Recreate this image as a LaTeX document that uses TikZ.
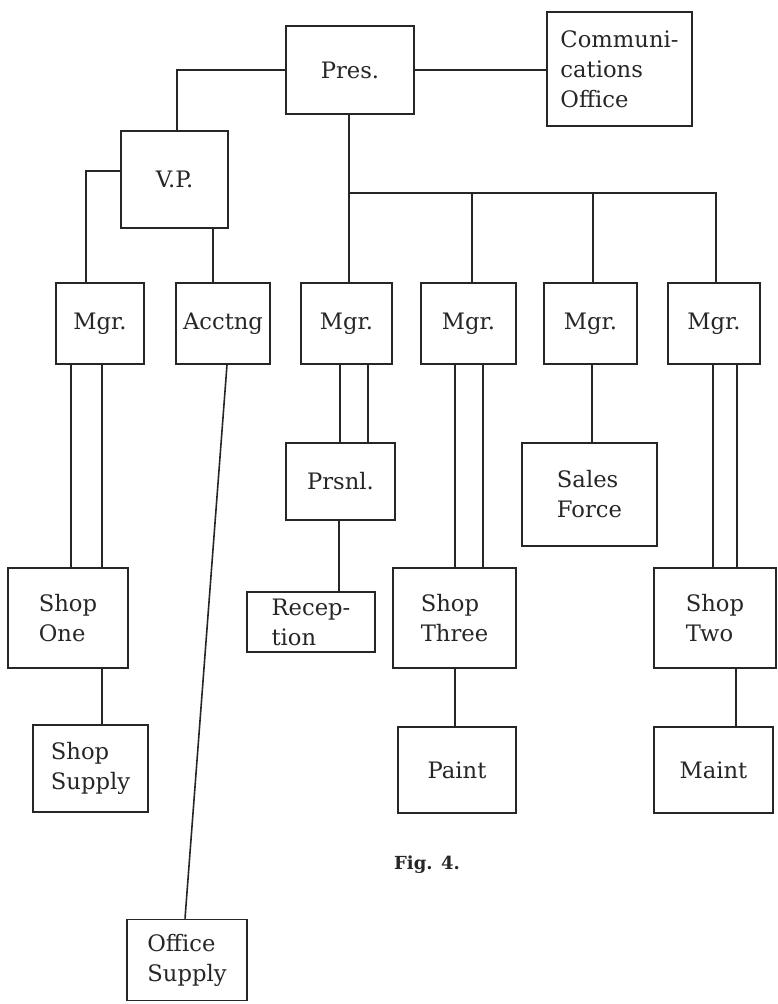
\documentclass[tikz,border=0pt]{standalone}
\usepackage{amsmath}
\usepackage{fontspec}
\setmainfont{DejaVu Serif}
\usepackage{tikz}
\tikzset{every picture/.style={line width=0.75pt}}
\tikzset{
  orgbox/.style 2 args={draw, color=black!85, line width=1.2pt, inner sep=0pt, align=left,
    minimum width=#1*0.75pt, minimum height=#2*0.75pt, font=\fontsize{17}{22.5}\selectfont},
  orgline/.style={draw=black!85, line width=1.2pt}
}

\begin{document}
\begin{tikzpicture}[x=0.75pt,y=0.75pt,yscale=-1,xscale=1]
\useasboundingbox (0,0) rectangle (778,1004);

%Boxes: top
\node[orgbox={128}{88}] (pres) at (350,70) {Pres.};
\node[orgbox={145}{114}] (comm) at (619.5,69) {Communi-\\cations\\Office};
\node[orgbox={107}{97}] (vp) at (174.5,179.5) {V.P.};
%Boxes: manager row
\node[orgbox={88}{81}] (mgrOne) at (100,323.5) {Mgr.};
\node[orgbox={94}{81}] (acctng) at (223,323.5) {Acctng};
\node[orgbox={91}{81}] (mgrTwo) at (346.5,323.5) {Mgr.};
\node[orgbox={95}{81}] (mgrThree) at (468.5,323.5) {Mgr.};
\node[orgbox={93}{81}] (mgrFour) at (590.5,323.5) {Mgr.};
\node[orgbox={92}{81}] (mgrFive) at (714,323.5) {Mgr.};
%Boxes: lower rows
\node[orgbox={109}{77}] (prsnl) at (340.5,481.5) {Prsnl.};
\node[orgbox={135}{103}] (sales) at (589.5,494.5) {Sales\\Force};
\node[orgbox={120}{100}] (shopOne) at (68,618) {Shop\\One};
\node[orgbox={128}{60}] (recep) at (311,622) {Recep-\\tion};
\node[orgbox={123}{100}] (shopThree) at (454.5,618) {Shop\\Three};
\node[orgbox={122}{100}] (shopTwo) at (715,618) {Shop\\Two};
\node[orgbox={115}{87}] (shopSupply) at (90.5,768.5) {Shop\\Supply};
\node[orgbox={118}{86}] (paint) at (457,770) {Paint};
\node[orgbox={119}{86}] (maint) at (713.5,770) {Maint};
\node[orgbox={120}{81}] (officeSupply) at (187,960) {Office\\Supply};
%Caption
\node[font=\fontsize{13.5}{16}\selectfont\bfseries, color=black!85] (fig) at (427,865) {Fig. 4.};

%Lines from the top
\coordinate (bus) at (349,193);
\draw[orgline] (pres.west) -| (vp.north -| 177,0);
\draw[orgline] (pres.east) -- (comm.west |- pres.east);
\draw[orgline] (vp.west |- 0,171) -| (mgrOne.north -| 86,0);
\draw[orgline] (vp.south -| 213,0) -- (acctng.north -| 213,0);
\draw[orgline] (pres.south -| bus) -- (bus) -| (mgrFive.north -| 716,0);
\draw[orgline] (bus) -- (mgrTwo.north -| bus);
\draw[orgline] (bus -| 472,0) -- (mgrThree.north -| 472,0);
\draw[orgline] (bus -| 593,0) -- (mgrFour.north -| 593,0);

%Double lines
\foreach \x in {71,102} \draw[orgline] (mgrOne.south -| \x,0) -- (shopOne.north -| \x,0);
\foreach \x in {340,368} \draw[orgline] (mgrTwo.south -| \x,0) -- (prsnl.north -| \x,0);
\foreach \x in {455,483} \draw[orgline] (mgrThree.south -| \x,0) -- (shopThree.north -| \x,0);
\foreach \x in {713,737} \draw[orgline] (mgrFive.south -| \x,0) -- (shopTwo.north -| \x,0);

%Single lines
\draw[orgline] (acctng.south -| 227,0) -- (officeSupply.north -| 185,0);
\draw[orgline] (prsnl.south -| 339,0) -- (recep.north -| 339,0);
\draw[orgline] (mgrFour.south -| 592,0) -- (sales.north -| 592,0);
\draw[orgline] (shopOne.south -| 102,0) -- (shopSupply.north -| 102,0);
\draw[orgline] (shopThree.south -| 455,0) -- (paint.north -| 455,0);
\draw[orgline] (shopTwo.south -| 736,0) -- (maint.north -| 736,0);
\end{tikzpicture}
\end{document}
